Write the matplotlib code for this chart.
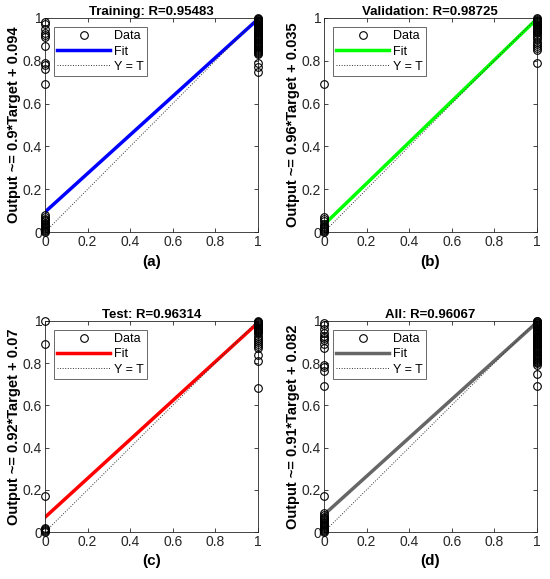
import numpy as np
import matplotlib.pyplot as plt
from matplotlib.ticker import FormatStrFormatter

plt.rcParams['font.family'] = ['Liberation Sans', 'DejaVu Sans']

# panel settings
titles = ["Training: R=0.95483", "Validation: R=0.98725", "Test: R=0.96314", "All: R=0.96067"]
slopes = [0.9, 0.96, 0.92, 0.91]
intercepts = [0.094, 0.035, 0.07, 0.082]
ylabels = ["Output ~= 0.9*Target + 0.094", "Output ~= 0.96*Target + 0.035",
           "Output ~= 0.92*Target + 0.07", "Output ~= 0.91*Target + 0.082"]
panel_tags = ["(a)", "(b)", "(c)", "(d)"]
fit_colors = ["#0000ff", "#00ff00", "#ff0000", "#666666"]

# outputs, split by target class (0 / 1)
out_t0 = [
    [0.98, 0.97, 0.95, 0.93, 0.92, 0.91, 0.87, 0.79, 0.78, 0.76, 0.69,
     0.08, 0.07, 0.06, 0.055, 0.05, 0.045, 0.04, 0.035, 0.03, 0.025, 0.02, 0.015, 0.01, 0.005, 0.0],
    [0.69, 0.07, 0.06, 0.05, 0.04, 0.03, 0.025, 0.02, 0.015, 0.01, 0.005, 0.0],
    [1.0, 0.89, 0.17, 0.02, 0.015, 0.01, 0.005, 0.0],
    [0.99, 0.98, 0.96, 0.94, 0.93, 0.92, 0.91, 0.89, 0.87, 0.79, 0.78, 0.76, 0.69, 0.17,
     0.09, 0.08, 0.07, 0.065, 0.06, 0.055, 0.05, 0.045, 0.04, 0.035, 0.03, 0.025, 0.02,
     0.015, 0.01, 0.005, 0.0],
]
out_t1 = [
    [1.0, 0.997, 0.994, 0.991, 0.988, 0.985, 0.982, 0.979, 0.976, 0.973, 0.97, 0.966, 0.962,
     0.958, 0.954, 0.95, 0.946, 0.942, 0.938, 0.934, 0.93, 0.925, 0.92, 0.915, 0.91, 0.905,
     0.9, 0.895, 0.89, 0.885, 0.88, 0.875, 0.87, 0.865, 0.86, 0.855, 0.85, 0.845, 0.84,
     0.835, 0.83, 0.79, 0.77, 0.75],
    [1.0, 0.996, 0.992, 0.988, 0.984, 0.98, 0.976, 0.972, 0.968, 0.964, 0.96, 0.955, 0.95,
     0.945, 0.94, 0.935, 0.93, 0.92, 0.91, 0.9, 0.89, 0.88, 0.87, 0.86, 0.85, 0.79],
    [1.0, 0.996, 0.992, 0.988, 0.984, 0.98, 0.976, 0.972, 0.968, 0.964, 0.96, 0.955, 0.95,
     0.945, 0.94, 0.93, 0.92, 0.91, 0.9, 0.89, 0.88, 0.87, 0.84, 0.81, 0.68],
    [1.0, 0.997, 0.994, 0.991, 0.988, 0.985, 0.982, 0.979, 0.976, 0.973, 0.97, 0.966, 0.962,
     0.958, 0.954, 0.95, 0.946, 0.942, 0.938, 0.934, 0.93, 0.925, 0.92, 0.915, 0.91, 0.905,
     0.9, 0.895, 0.89, 0.885, 0.88, 0.875, 0.87, 0.865, 0.86, 0.855, 0.85, 0.845, 0.84,
     0.835, 0.83, 0.825, 0.82, 0.815, 0.81, 0.805, 0.8, 0.79, 0.75, 0.69],
]

fig = plt.figure(figsize=(5.5, 5.79), dpi=100)
positions = [
    [0.0818, 0.599, 0.387, 0.370],
    [0.589, 0.599, 0.387, 0.370],
    [0.0818, 0.081, 0.387, 0.365],
    [0.589, 0.081, 0.387, 0.365],
]
axis_col = "#262626"

for i in range(4):
    ax = fig.add_axes(positions[i])
    x0 = np.zeros(len(out_t0[i]))
    x1 = np.ones(len(out_t1[i]))
    tx = np.concatenate([x0, x1])
    ty = np.concatenate([out_t0[i], out_t1[i]])
    ax.plot(tx, ty, linestyle="none", marker="o", markersize=5.5, markerfacecolor="none",
            markeredgecolor="black", markeredgewidth=0.8, label="Data", clip_on=False, zorder=3)
    xs = np.array([0, 1])
    ax.plot(xs, slopes[i] * xs + intercepts[i], color=fit_colors[i], linewidth=2.5, label="Fit", zorder=2)
    ax.plot(xs, xs, color="#333333", linestyle=":", linewidth=0.7, label="Y = T", zorder=2)

    ax.set_xlim(0, 1)
    ax.set_ylim(0, 1)
    ax.set_xticks([0, 0.2, 0.4, 0.6, 0.8, 1])
    ax.set_yticks([0, 0.2, 0.4, 0.6, 0.8, 1])
    ax.xaxis.set_major_formatter(FormatStrFormatter("%g"))
    ax.yaxis.set_major_formatter(FormatStrFormatter("%g"))
    ax.tick_params(direction="in", top=True, right=True, length=3, width=0.6,
                   labelsize=10, colors=axis_col, pad=2)
    for s in ax.spines.values():
        s.set_color(axis_col)
        s.set_linewidth(0.6)

    ax.set_title(titles[i], fontsize=9.5, fontweight="bold", pad=2)
    ax.set_ylabel(ylabels[i], fontsize=10.5, fontweight="bold", labelpad=1)
    ax.set_xlabel(panel_tags[i], fontsize=11, fontweight="bold", labelpad=4)

    leg = ax.legend(loc="upper left", fontsize=9, handlelength=4.2, frameon=True, fancybox=False,
                    edgecolor=axis_col, borderaxespad=0.7, labelspacing=0.25, handletextpad=0.3,
                    borderpad=0.3)
    leg.get_frame().set_linewidth(0.6)

plt.savefig("out.png", dpi=100)
